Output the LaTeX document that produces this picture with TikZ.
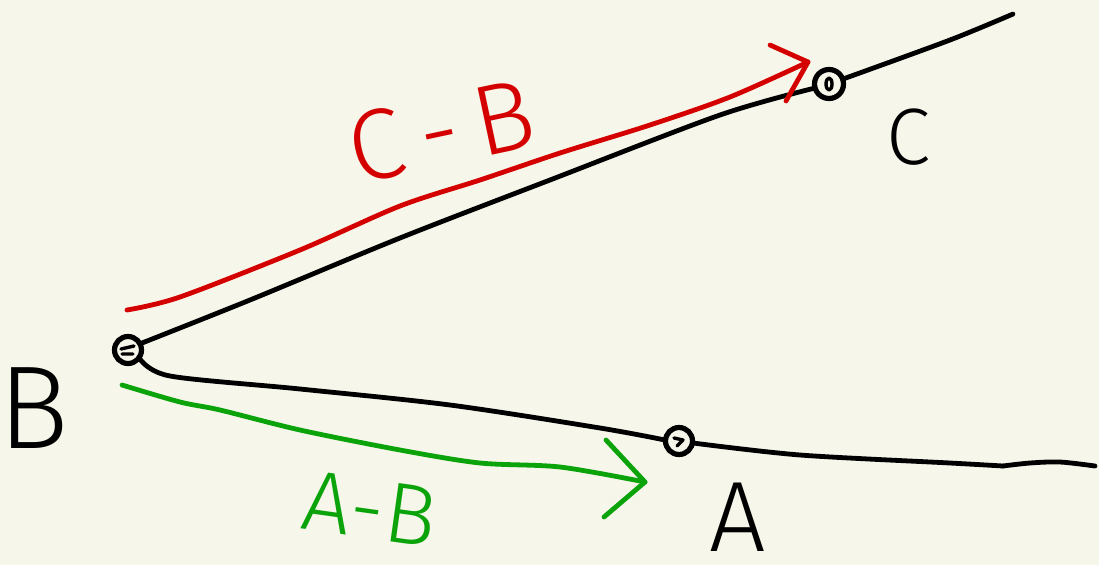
\documentclass[tikz,border=0pt]{standalone}
\usepackage{fontspec}
\setmainfont{Open Sans}
\newfontfamily\handfont{Fira Sans Light}
\begin{document}
\begin{tikzpicture}[x=1pt,y=-1pt,
  ink/.style={line width=4.8pt,line cap=round,line join=round},
  pt/.style={circle,draw=black,line width=5.2pt,minimum size=27pt,inner sep=0pt},
  lbl/.style={inner sep=0pt,font=\handfont\fontsize{#1}{#1}\selectfont},
  lbl/.default=100]
\definecolor{bg}{HTML}{F7F6EA}
\definecolor{myred}{HTML}{D40000}
\definecolor{mygreen}{HTML}{0AA30A}
\fill[bg] (0,0) rectangle (1099,565);
\useasboundingbox (0,0) rectangle (1099,565);
% points
\node[pt] (B) at (128,350) {};
\node[pt,minimum width=24pt,minimum height=29pt] (C) at (829,84) {};
\node[pt] (A) at (679,441) {};
\draw[ink,line width=3.4pt] (B.center) ++(-7,-1) -- ++(13,-3) (B.center) ++(-6,4) -- ++(11,0);
\draw[ink,line width=3.4pt] (C.center) ellipse (3pt and 6pt);
\draw[ink,line width=3.4pt] (A.center) ++(-5,-3) -- ++(9,2) -- ++(-6,6);
% black lines
\draw[ink] (B) plot[smooth] coordinates {(142,343) (250,300) (400,238) (550,180) (720,115) (815,88)};
\draw[ink] (C) plot[smooth] coordinates {(843,79) (950,40) (1013,14)};
\draw[ink] (B) plot[smooth] coordinates {(140,359) (170,376) (300,389) (450,405) (600,428) (665,440)};
\draw[ink] (A) plot[smooth] coordinates {(693,443) (800,455) (950,463) (1003,466)};
\draw[ink] plot[smooth] coordinates {(1003,466) (1030,463) (1060,462) (1095,466)};
% red vector
\coordinate (rs) at (127,310);
\coordinate (rt) at (808,62);
\draw[ink,myred] (rs) plot[smooth] coordinates {(127,310) (180,297) (300,250) (400,206) (480,180) (560,153) (650,125) (730,97) (808,62)};
\draw[ink,myred] (770,45) -- (rt) -- (786,101);
\node[lbl=100,text=myred,rotate=12] (CB) at (441,131) {C\,-\,B};
% green vector
\coordinate (gs) at (122,385);
\coordinate (gt) at (645,482);
\draw[ink,mygreen] (gs) plot[smooth] coordinates {(122,385) (180,402) (220,410) (300,430) (400,450) (480,463) (560,467) (645,482)};
\draw[ink,mygreen] (606,440) -- (gt) -- (604,517);
\node[lbl=86,text=mygreen,rotate=-8] (AB) at (370,509) {A-B};
% letters
\node[lbl=118] (Bl) at (34,408) {B};
\node[lbl=80] (Cl) at (908,137) {C};
\node[lbl=100] (Al) at (738,517) {A};
\end{tikzpicture}
\end{document}
